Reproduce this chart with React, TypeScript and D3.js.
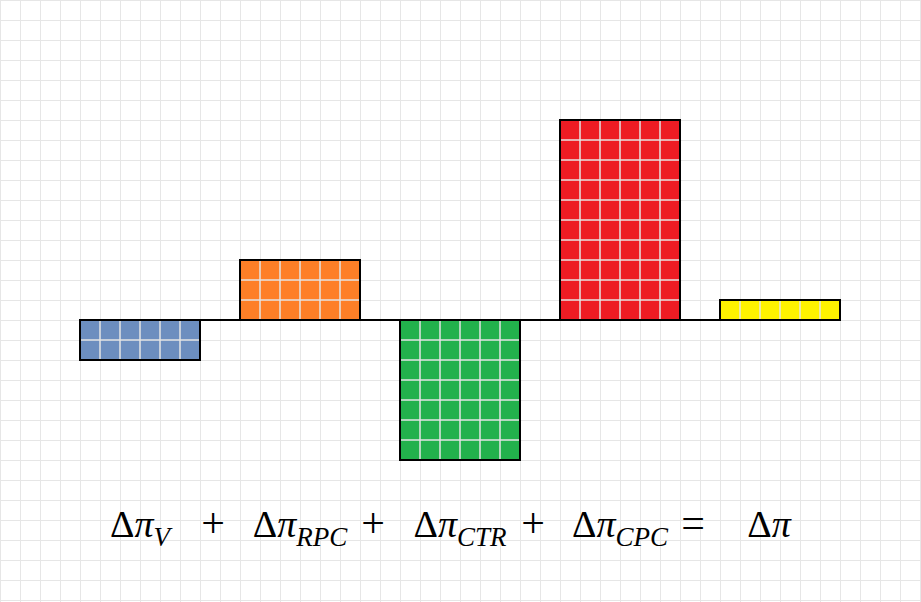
import React from "react";
import * as d3 from "d3";

// decomposition terms, left to right
const terms = ["V", "RPC", "CTR", "CPC", ""];
const values = [-2, 3, -7, 10, 1];
const colors = ["#6c8ebf", "#fe7f27", "#22b14c", "#ed1c24", "#fff200"];
const operators = ["+", "+", "+", "="];

const W = 921;
const H = 602;

export default function App() {
  const x = d3
    .scaleBand<string>()
    .domain(terms.map((t, i) => `${i}`))
    .range([80, 840])
    .paddingInner(0.25)
    .paddingOuter(0);

  // one unit = one grid cell (20px)
  const y = d3.scaleLinear().domain([0, 10]).range([320, 120]);
  const unit = Math.abs(y(1) - y(0));
  const cols = 6;

  const bgX = d3.range(0, W, unit);
  const bgY = d3.range(0, H, unit);

  const textY = 537;

  return (
    <svg
      width={W}
      height={H}
      style={{ position: "absolute", left: 0, top: 0, background: "#fff" }}
    >
      {/* background grid */}
      <g stroke="#e6e6e6" strokeWidth={1}>
        {bgX.map((gx) => (
          <line key={"vx" + gx} x1={gx + 0.5} x2={gx + 0.5} y1={0} y2={H} />
        ))}
        {bgY.map((gy) => (
          <line key={"hy" + gy} x1={0} x2={W} y1={gy + 0.5} y2={gy + 0.5} />
        ))}
      </g>

      {/* zero line */}
      <line x1={80} x2={840} y1={y(0)} y2={y(0)} stroke="#000" strokeWidth={2} />

      {/* bars */}
      {values.map((v, i) => {
        const bx = x(`${i}`) || 0;
        const bw = x.bandwidth();
        const top = y(Math.max(0, v));
        const bottom = y(Math.min(0, v));
        const rows = d3.range(1, Math.abs(v));
        const colLines = d3.range(1, cols);
        return (
          <g key={i}>
            <rect x={bx} y={top} width={bw} height={bottom - top} fill={colors[i]} />
            <g stroke="#e4e4e4" strokeWidth={1.5}>
              {rows.map((r) => (
                <line key={"r" + r} x1={bx} x2={bx + bw} y1={top + r * unit} y2={top + r * unit} />
              ))}
              {colLines.map((c) => (
                <line key={"c" + c} x1={bx + (c * bw) / cols} x2={bx + (c * bw) / cols} y1={top} y2={bottom} />
              ))}
            </g>
            <rect
              x={bx}
              y={top}
              width={bw}
              height={bottom - top}
              fill="none"
              stroke="#000"
              strokeWidth={2}
            />
          </g>
        );
      })}

      {/* formula */}
      <g fontFamily="'Liberation Serif', 'DejaVu Serif', serif" fill="#000">
        {terms.map((t, i) => {
          const cx = (x(`${i}`) || 0) + x.bandwidth() / 2 - (t ? 0 : 11);
          return (
            <text key={"t" + i} x={cx} y={textY} fontSize={38} textAnchor="middle">
              <tspan>Δ</tspan>
              <tspan fontStyle="italic">π</tspan>
              {t && (
                <tspan fontStyle="italic" fontSize={27} dy={9}>
                  {t}
                </tspan>
              )}
            </text>
          );
        })}
        {operators.map((op, i) => {
          const ox = (x(`${i + 1}`) || 0) - 27;
          return (
            <text key={"o" + i} x={ox} y={textY} fontSize={42} textAnchor="middle">
              {op}
            </text>
          );
        })}
      </g>
    </svg>
  );
}
